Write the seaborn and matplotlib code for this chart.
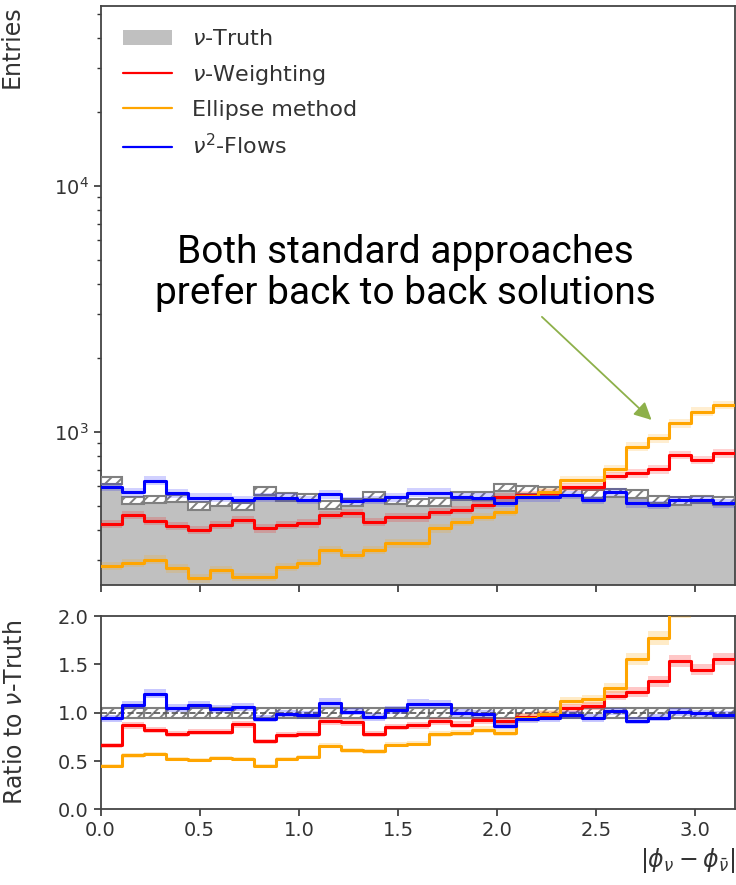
import numpy as np
import pandas as pd
import matplotlib
matplotlib.use("Agg")
import matplotlib.pyplot as plt
import seaborn as sns
from matplotlib.patches import Patch
from matplotlib.lines import Line2D
from matplotlib.ticker import LogLocator, NullFormatter, MultipleLocator

# Binning of |phi_nu - phi_nubar|
bin_edges = np.linspace(0.0, 3.2, 30)

# Entries per bin
truth = [634, 526, 529, 534, 500, 519, 497, 575, 544, 541,
         503, 516, 551, 526, 516, 518, 547, 547, 594, 579,
         575, 567, 558, 563, 558, 531, 524, 531, 524]
weighting = [421, 458, 433, 414, 398, 417, 437, 404, 417, 424,
             458, 465, 430, 448, 448, 472, 480, 503, 541, 553,
             561, 597, 597, 662, 677, 703, 804, 767, 817]
ellipse = [284, 293, 302, 278, 253, 274, 257, 257, 282, 293,
           330, 315, 330, 351, 351, 404, 430, 451, 472, 547,
           570, 636, 636, 705, 869, 940, 1082, 1206, 1284]
flows = [597, 567, 632, 561, 539, 539, 527, 539, 539, 527,
         556, 522, 527, 541, 565, 565, 544, 539, 514, 540,
         541, 553, 527, 570, 511, 503, 527, 527, 511]

# Relative statistical uncertainties
truth_rel_err = 0.035
ratio_truth_err = 0.05
pred_rel_err = 0.04

labels = [r"$\nu$-Truth", r"$\nu$-Weighting", "Ellipse method", r"$\nu^2$-Flows"]
colors = {"truth": "#c0c0c0", "weighting": "red", "ellipse": "orange", "flows": "blue"}

sns.set_style("ticks")
plt.rcParams["font.family"] = ["DejaVu Sans"]
plt.rcParams["text.color"] = "#333333"
plt.rcParams["axes.labelcolor"] = "#333333"
plt.rcParams["xtick.color"] = "#333333"
plt.rcParams["ytick.color"] = "#333333"
plt.rcParams["axes.edgecolor"] = "#444444"
plt.rcParams["hatch.linewidth"] = 1.4

edges = np.asarray(bin_edges)
bins_list = list(edges)
centers = 0.5 * (edges[:-1] + edges[1:])
widths = np.diff(edges)
t = np.asarray(truth, dtype=float)

df = pd.DataFrame({"x": centers, "truth": t, "weighting": weighting,
                   "ellipse": ellipse, "flows": flows})
for k in ["weighting", "ellipse", "flows"]:
    df[k + "_ratio"] = df[k] / df["truth"]

fig = plt.figure(figsize=(7.36, 8.85), dpi=100)
ax1 = fig.add_axes([0.1366, 0.3390, 0.8621, 0.6546])
ax2 = fig.add_axes([0.1366, 0.0855, 0.8621, 0.2184])

ax1.set_yscale("log")
lw = 2.2

# --- main panel ---
sns.histplot(data=df, x="x", weights="truth", bins=bins_list, element="step",
             fill=True, color=colors["truth"], alpha=1.0, linewidth=0, ax=ax1)
ax1.bar(centers, 2 * truth_rel_err * t, bottom=t * (1 - truth_rel_err), width=widths,
        facecolor="white", edgecolor="#808080", hatch="///", linewidth=1.5, zorder=3)

for k in ["weighting", "ellipse", "flows"]:
    v = df[k].to_numpy(dtype=float)
    ax1.fill_between(edges, np.append(v, v[-1]) * (1 - pred_rel_err),
                     np.append(v, v[-1]) * (1 + pred_rel_err), step="post",
                     color=colors[k], alpha=0.18, linewidth=0, zorder=4)
    sns.histplot(data=df, x="x", weights=k, bins=bins_list, element="step",
                 fill=False, color=colors[k], linewidth=lw, ax=ax1, zorder=5)

ax1.set_xlim(0, 3.2)
ax1.set_ylim(238, 54000)
ax1.yaxis.set_major_locator(LogLocator(base=10))
ax1.yaxis.set_minor_locator(LogLocator(base=10, subs=np.arange(2, 10)))
ax1.yaxis.set_minor_formatter(NullFormatter())
ax1.xaxis.set_major_locator(MultipleLocator(0.5))
ax1.tick_params(axis="x", labelbottom=False)
ax1.set_xlabel("")
ax1.set_ylabel("Entries", fontsize=17, loc="top")
ax1.yaxis.set_label_coords(-0.121, 1.0)

handles = [Patch(facecolor=colors["truth"], edgecolor="none"),
           Line2D([], [], color=colors["weighting"], lw=1.6),
           Line2D([], [], color=colors["ellipse"], lw=1.6),
           Line2D([], [], color=colors["flows"], lw=1.6)]
ax1.legend(handles, labels, loc="upper left", bbox_to_anchor=(0.008, 0.99),
           frameon=False, fontsize=16, handlelength=2.2, handletextpad=0.9,
           labelspacing=0.6, borderaxespad=0.4)

ax1.annotate("", xy=(2.779, 1116), xytext=(2.226, 2930),
             arrowprops=dict(arrowstyle="-|>", color="#8db04a", lw=1.3,
                             mutation_scale=26, shrinkA=0, shrinkB=0))
fig.text(405 / 736, 1 - 273 / 885,
         "Both standard approaches\nprefer back to back solutions",
         ha="center", va="center", fontsize=28, family="Roboto",
         color="black", linespacing=1.13)

# --- ratio panel ---
ones = np.ones_like(t)
ax2.bar(centers, 2 * ratio_truth_err * ones, bottom=1 - ratio_truth_err, width=widths,
        facecolor="white", edgecolor="#808080", hatch="///", linewidth=1.5, zorder=2)
ax2.axhline(1.0, color="#555555", ls="--", lw=1.2, zorder=2.5)

for k in ["weighting", "ellipse", "flows"]:
    r = df[k + "_ratio"].to_numpy()
    rr = np.append(r, r[-1])
    ax2.fill_between(edges, rr * (1 - pred_rel_err), rr * (1 + pred_rel_err),
                     step="post", color=colors[k], alpha=0.22, linewidth=0, zorder=3)
    sns.histplot(data=df, x="x", weights=k + "_ratio", bins=bins_list, element="step",
                 fill=False, color=colors[k], linewidth=lw, ax=ax2, zorder=4)

ax2.set_xlim(0, 3.2)
ax2.set_ylim(0, 2.0)
ax2.xaxis.set_major_locator(MultipleLocator(0.5))
ax2.yaxis.set_major_locator(MultipleLocator(0.5))
ax2.set_ylabel(r"Ratio to $\nu$-Truth", fontsize=17)
ax2.yaxis.set_label_coords(-0.116, 0.5)
ax2.set_xlabel(r"$|\phi_{\nu} - \phi_{\bar{\nu}}|$", fontsize=17, loc="right")

for ax in (ax1, ax2):
    for s in ax.spines.values():
        s.set_visible(True)
        s.set_linewidth(1.3)
    ax.tick_params(which="major", length=5, width=1.2, labelsize=14)
    ax.tick_params(which="minor", length=3, width=1.0)

fig.savefig("out.png", dpi=100)
